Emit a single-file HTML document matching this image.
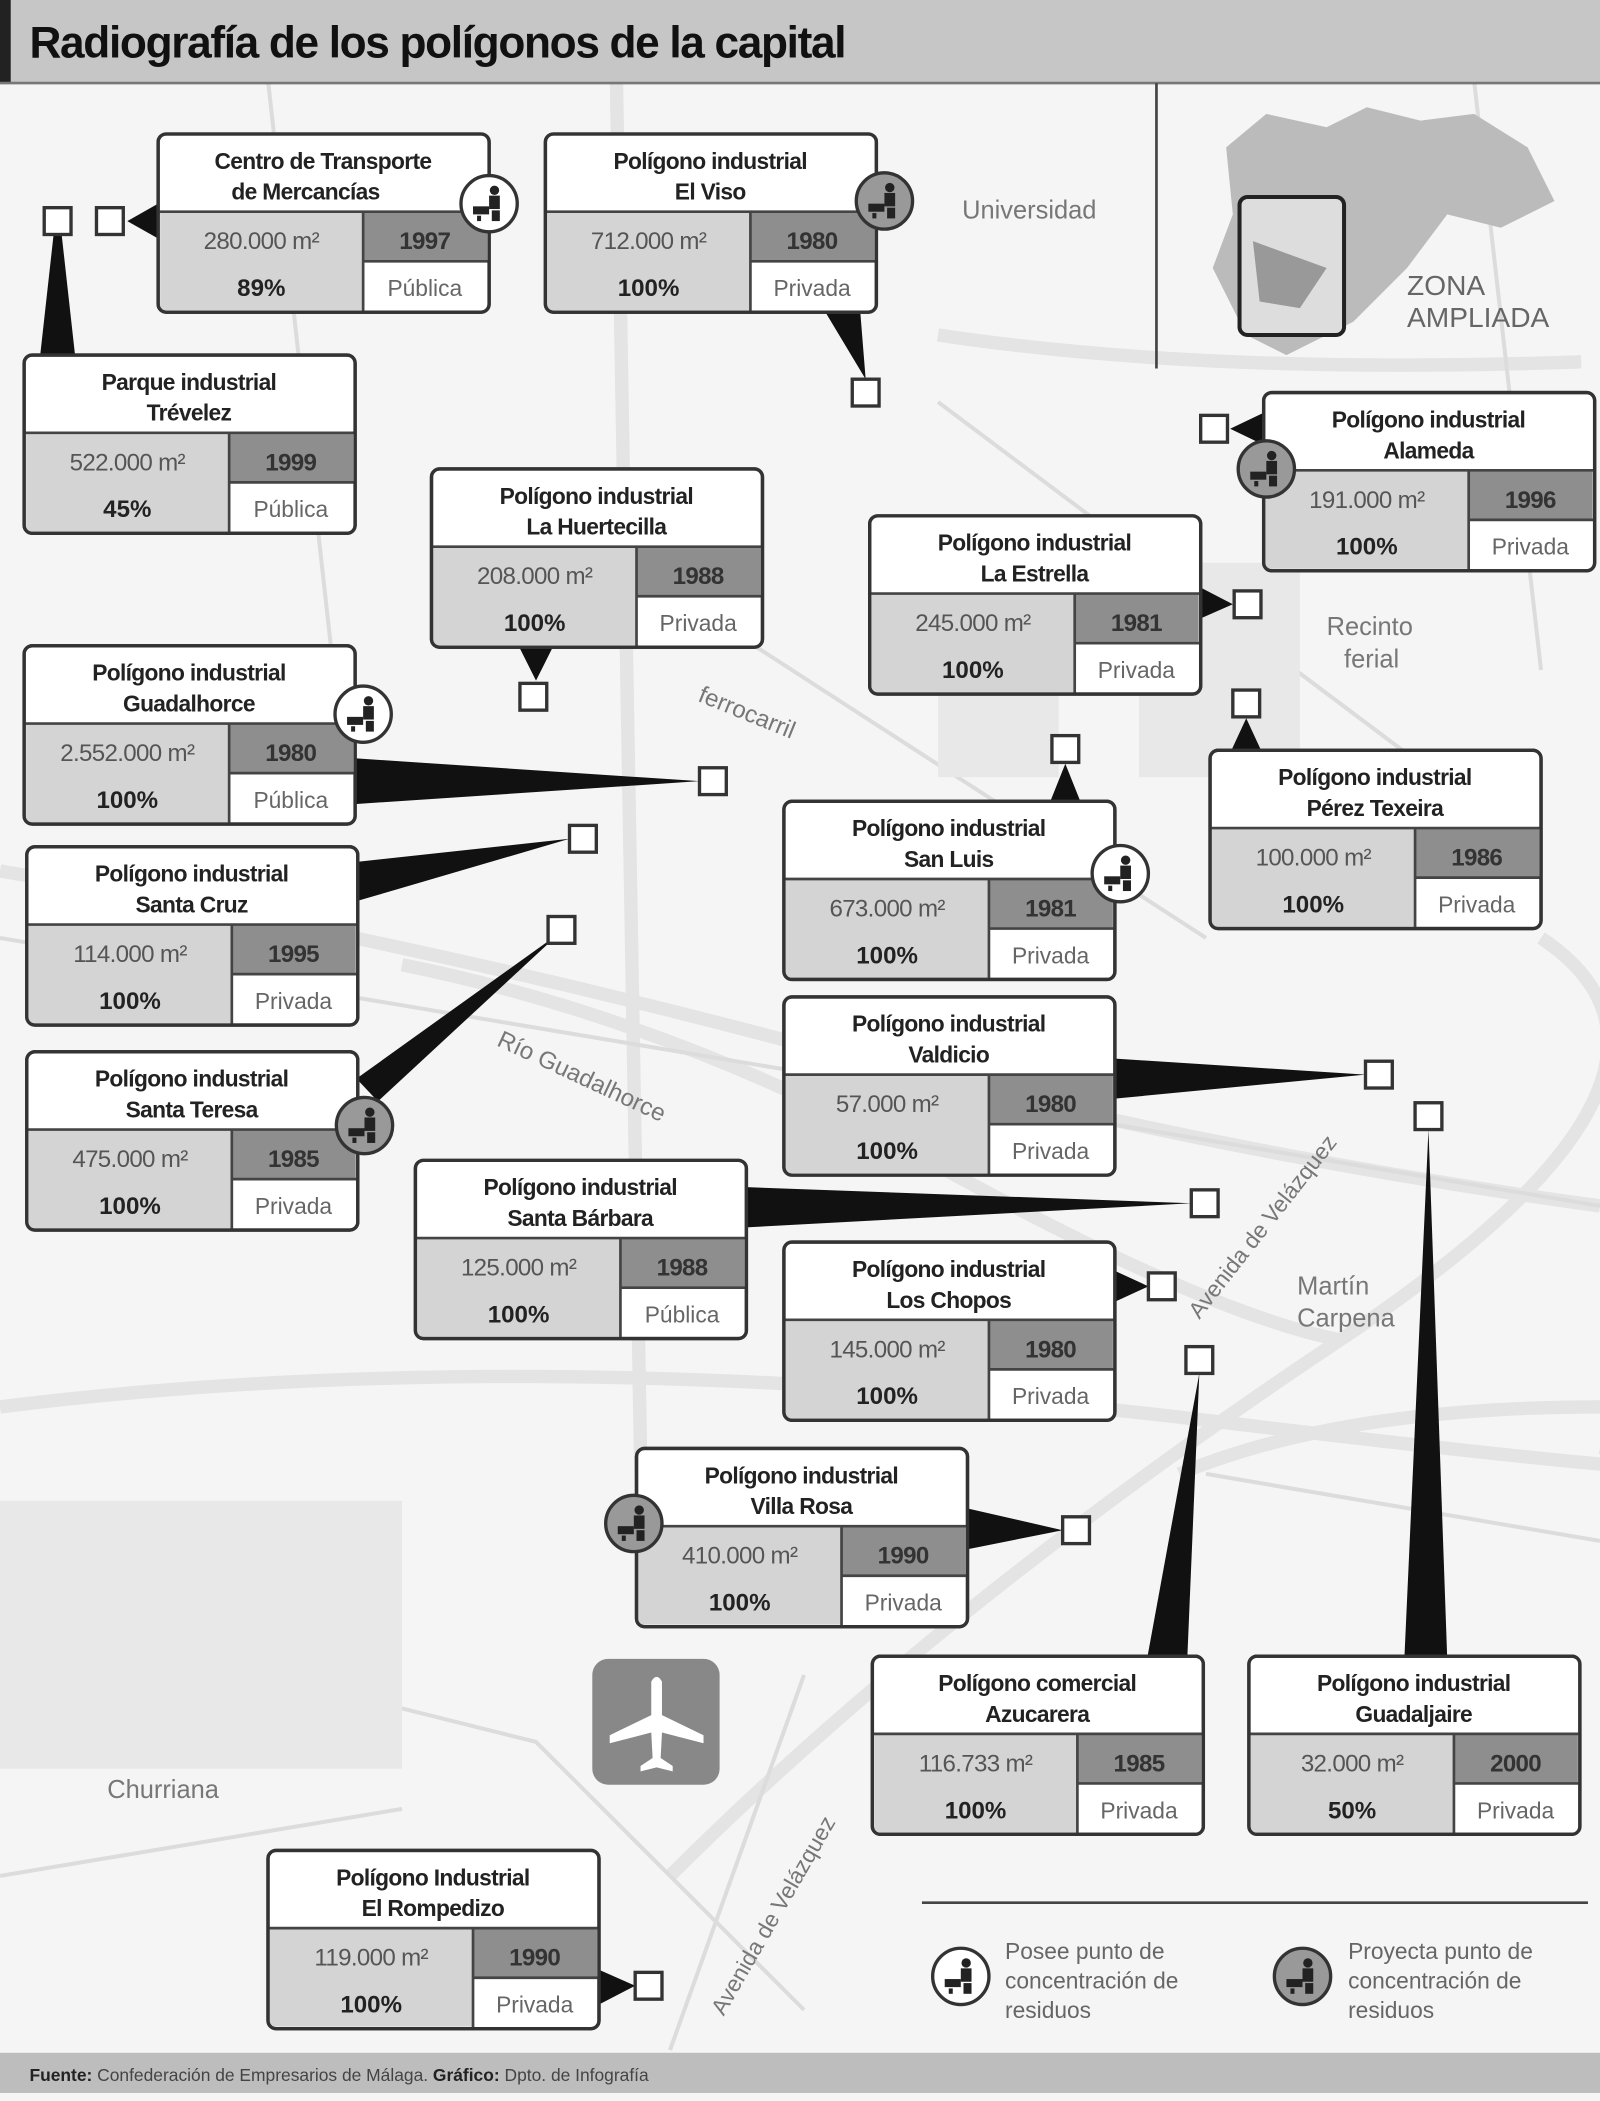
<!DOCTYPE html>
<html><head><meta charset="utf-8"><style>
html,body{margin:0;padding:0;background:#fff}
svg{display:block}
text{font-family:"Liberation Sans",sans-serif}
.t{font-size:17px;font-weight:bold;fill:#222;text-anchor:middle;letter-spacing:-0.5px}
.a{font-size:18px;fill:#555;text-anchor:middle;letter-spacing:-0.5px}
.y{font-size:18px;font-weight:bold;fill:#333;text-anchor:middle;letter-spacing:-0.5px}
.p{font-size:18px;font-weight:bold;fill:#222;text-anchor:middle}
.k{font-size:17px;fill:#666;text-anchor:middle}
.m{font-size:17px;fill:#777}
</style></head><body>
<svg width="1600" height="2101" viewBox="0 0 1194 1568" preserveAspectRatio="none" xmlns="http://www.w3.org/2000/svg">
<defs>
<g id="bx">
<rect x="0" y="0" width="247" height="133" rx="6" fill="#fff" stroke="#333" stroke-width="2.5"/>
<rect x="1.5" y="58" width="152" height="73.5" fill="#d4d4d4"/>
<rect x="153" y="58" width="92.5" height="37" fill="#8e8e8e"/>
<line x1="1" y1="58" x2="246" y2="58" stroke="#444" stroke-width="2"/>
<line x1="153" y1="58" x2="153" y2="132" stroke="#444" stroke-width="2"/>
<line x1="153" y1="95" x2="246" y2="95" stroke="#444" stroke-width="2"/>
<rect x="0" y="0" width="247" height="133" rx="6" fill="none" stroke="#333" stroke-width="2.5"/>
</g>
<g id="own"><circle r="21" fill="#fff" stroke="#333" stroke-width="2.5"/><circle cx="4" cy="-10" r="3.5" fill="#222"/><rect x="0" y="-6" width="8" height="10" fill="#222"/><rect x="-12" y="2" width="12" height="6" fill="#222"/><rect x="-9" y="9" width="3" height="4" fill="#222"/><rect x="2" y="5" width="6" height="8" fill="#222"/></g>
<g id="prj"><circle r="21" fill="#999" stroke="#333" stroke-width="2.5"/><circle cx="4" cy="-10" r="3.5" fill="#222"/><rect x="0" y="-6" width="8" height="10" fill="#222"/><rect x="-12" y="2" width="12" height="6" fill="#222"/><rect x="-9" y="9" width="3" height="4" fill="#222"/><rect x="2" y="5" width="6" height="8" fill="#222"/></g>
<rect id="mk" width="20" height="20" fill="#fff" stroke="#333" stroke-width="2.5"/>
</defs>
<rect width="1194" height="1568" fill="#f5f5f5"/>
<g fill="none" stroke="#e4e4e4" stroke-width="10">
<path d="M0 650 Q300 700 600 780 T1194 900"/>
<path d="M300 720 Q500 760 700 870 T1000 1000"/>
<path d="M460 60 L480 1200"/>
<path d="M700 250 Q900 280 1180 270"/>
<path d="M0 1050 Q400 1000 900 1060 T1194 1080"/>
<path d="M880 1100 Q1000 1050 1194 1050"/>
<path d="M500 1400 Q700 1200 1000 1000 T1150 700"/>
</g>
<g fill="none" stroke="#dcdcdc" stroke-width="3">
<path d="M0 700 L1194 900"/><path d="M200 60 L260 600"/><path d="M700 300 L1100 600"/>
<path d="M0 1200 L400 1300 L600 1500"/><path d="M900 1100 L1194 1150"/><path d="M560 480 L900 700"/>
<path d="M0 1400 L300 1350"/><path d="M600 1250 L500 1530"/><path d="M1100 60 L1150 500"/>
</g>
<g fill="#e8e8e8"><rect x="0" y="1120" width="300" height="200"/><rect x="850" y="420" width="120" height="160"/><rect x="700" y="500" width="90" height="80"/></g>
<rect x="0" y="0" width="1194" height="62" fill="#c6c6c6"/>
<rect x="0" y="0" width="8" height="62" fill="#222"/>
<line x1="0" y1="62" x2="1194" y2="62" stroke="#777" stroke-width="2"/>
<text x="22" y="43" style="font-size:33px;font-weight:bold;fill:#111;letter-spacing:-1px">Radiografía de los polígonos de la capital</text>
<line x1="863" y1="62" x2="863" y2="275" stroke="#444" stroke-width="2"/>
<path d="M915 110 L945 85 L990 95 L1020 80 L1060 90 L1100 85 L1140 110 L1160 150 L1120 170 L1080 160 L1050 200 L1010 240 L960 265 L930 250 L905 200 L920 160 Z" fill="#bbb"/>
<rect x="925" y="147" width="78" height="103" rx="6" fill="#ddd" stroke="#222" stroke-width="3"/>
<path d="M935 180 L990 200 L970 230 L940 225 Z" fill="#999"/>
<text x="1050" y="220" style="font-size:21px;fill:#666">ZONA</text>
<text x="1050" y="244" style="font-size:21px;fill:#666">AMPLIADA</text>
<text class="m" x="718" y="163" style="font-size:19px">Universidad</text>
<text class="m" x="990" y="474" style="font-size:19px">Recinto</text>
<text class="m" x="1003" y="498" style="font-size:19px">ferial</text>
<text class="m" x="520" y="523" transform="rotate(22 520 523)" style="font-size:18px">ferrocarril</text>
<text class="m" x="370" y="780" transform="rotate(25 370 780)" style="font-size:18px">Río Guadalhorce</text>
<text class="m" x="895" y="985" transform="rotate(-52 895 985)" style="font-size:17px">Avenida de Velázquez</text>
<text class="m" x="968" y="966" style="font-size:19px">Martín</text>
<text class="m" x="968" y="990" style="font-size:19px">Carpena</text>
<text class="m" x="80" y="1342" style="font-size:19px">Churriana</text>
<text class="m" x="540" y="1505" transform="rotate(-60 540 1505)" style="font-size:17px">Avenida de Velázquez</text>
<rect x="442" y="1238" width="95" height="94" rx="12" fill="#888"/>
<path d="M486 1255 Q490 1248 494 1255 L494 1280 L525 1295 L525 1301 L494 1293 L493 1312 L502 1318 L502 1322 L490 1319 L478 1322 L478 1318 L487 1312 L486 1293 L455 1301 L455 1295 L486 1280 Z" fill="#fff"/>
<g fill="#111">
<polygon points="118,152 118,178 95,165"/>
<polygon points="40,175 46,175 56,265 30,265"/>
<polygon points="616,233 642,233 646,283"/>
<polygon points="388,484 412,484 400,508"/>
<polygon points="943,308 943,332 918,320"/>
<polygon points="895,438 895,462 920,451"/>
<polygon points="266,566 266,600 522,583"/>
<polygon points="268,643 268,672 425,626"/>
<polygon points="918,562 942,562 930,536"/>
<polygon points="783,600 807,600 795,570"/>
<polygon points="266,805 282,822 418,696"/>
<polygon points="831,790 831,820 1019,802"/>
<polygon points="557,886 557,916 889,898"/>
<polygon points="831,948 831,972 857,960"/>
<polygon points="1048,1238 1080,1238 1066,843"/>
<polygon points="856,1238 886,1238 895,1025"/>
<polygon points="723,1126 723,1156 793,1142"/>
<polygon points="447,1470 447,1496 474,1482"/>
</g>
<g>
<use href="#mk" x="33" y="155"/><use href="#mk" x="72" y="155"/>
<use href="#mk" x="636" y="283"/><use href="#mk" x="388" y="510"/>
<use href="#mk" x="896" y="310"/><use href="#mk" x="921" y="441"/>
<use href="#mk" x="522" y="573"/><use href="#mk" x="425" y="616"/>
<use href="#mk" x="920" y="515"/><use href="#mk" x="785" y="549"/>
<use href="#mk" x="409" y="684"/><use href="#mk" x="1019" y="792"/>
<use href="#mk" x="889" y="888"/><use href="#mk" x="857" y="950"/>
<use href="#mk" x="1056" y="823"/><use href="#mk" x="885" y="1005"/>
<use href="#mk" x="793" y="1132"/><use href="#mk" x="474" y="1472"/>
</g>
<g transform="translate(118,100)"><use href="#bx"/><text class="t" x="123" y="26">Centro de Transporte</text><text class="t" x="110" y="49">de Mercancías</text><text class="a" x="77" y="86">280.000 m²</text><text class="y" x="199" y="86">1997</text><text class="p" x="77" y="121">89%</text><text class="k" x="199" y="121">Pública</text></g>
<g transform="translate(407,100)"><use href="#bx"/><text class="t" x="123" y="26">Polígono industrial</text><text class="t" x="123" y="49">El Viso</text><text class="a" x="77" y="86">712.000 m²</text><text class="y" x="199" y="86">1980</text><text class="p" x="77" y="121">100%</text><text class="k" x="199" y="121">Privada</text></g>
<g transform="translate(18,265)"><use href="#bx"/><text class="t" x="123" y="26">Parque industrial</text><text class="t" x="123" y="49">Trévelez</text><text class="a" x="77" y="86">522.000 m²</text><text class="y" x="199" y="86">1999</text><text class="p" x="77" y="121">45%</text><text class="k" x="199" y="121">Pública</text></g>
<g transform="translate(322,350)"><use href="#bx"/><text class="t" x="123" y="26">Polígono industrial</text><text class="t" x="123" y="49">La Huertecilla</text><text class="a" x="77" y="86">208.000 m²</text><text class="y" x="199" y="86">1988</text><text class="p" x="77" y="121">100%</text><text class="k" x="199" y="121">Privada</text></g>
<g transform="translate(943,293)"><use href="#bx"/><text class="t" x="123" y="26">Polígono industrial</text><text class="t" x="123" y="49">Alameda</text><text class="a" x="77" y="86">191.000 m²</text><text class="y" x="199" y="86">1996</text><text class="p" x="77" y="121">100%</text><text class="k" x="199" y="121">Privada</text></g>
<g transform="translate(649,385)"><use href="#bx"/><text class="t" x="123" y="26">Polígono industrial</text><text class="t" x="123" y="49">La Estrella</text><text class="a" x="77" y="86">245.000 m²</text><text class="y" x="199" y="86">1981</text><text class="p" x="77" y="121">100%</text><text class="k" x="199" y="121">Privada</text></g>
<g transform="translate(18,482)"><use href="#bx"/><text class="t" x="123" y="26">Polígono industrial</text><text class="t" x="123" y="49">Guadalhorce</text><text class="a" x="77" y="86">2.552.000 m²</text><text class="y" x="199" y="86">1980</text><text class="p" x="77" y="121">100%</text><text class="k" x="199" y="121">Pública</text></g>
<g transform="translate(20,632)"><use href="#bx"/><text class="t" x="123" y="26">Polígono industrial</text><text class="t" x="123" y="49">Santa Cruz</text><text class="a" x="77" y="86">114.000 m²</text><text class="y" x="199" y="86">1995</text><text class="p" x="77" y="121">100%</text><text class="k" x="199" y="121">Privada</text></g>
<g transform="translate(585,598)"><use href="#bx"/><text class="t" x="123" y="26">Polígono industrial</text><text class="t" x="123" y="49">San Luis</text><text class="a" x="77" y="86">673.000 m²</text><text class="y" x="199" y="86">1981</text><text class="p" x="77" y="121">100%</text><text class="k" x="199" y="121">Privada</text></g>
<g transform="translate(903,560)"><use href="#bx"/><text class="t" x="123" y="26">Polígono industrial</text><text class="t" x="123" y="49">Pérez Texeira</text><text class="a" x="77" y="86">100.000 m²</text><text class="y" x="199" y="86">1986</text><text class="p" x="77" y="121">100%</text><text class="k" x="199" y="121">Privada</text></g>
<g transform="translate(585,744)"><use href="#bx"/><text class="t" x="123" y="26">Polígono industrial</text><text class="t" x="123" y="49">Valdicio</text><text class="a" x="77" y="86">57.000 m²</text><text class="y" x="199" y="86">1980</text><text class="p" x="77" y="121">100%</text><text class="k" x="199" y="121">Privada</text></g>
<g transform="translate(20,785)"><use href="#bx"/><text class="t" x="123" y="26">Polígono industrial</text><text class="t" x="123" y="49">Santa Teresa</text><text class="a" x="77" y="86">475.000 m²</text><text class="y" x="199" y="86">1985</text><text class="p" x="77" y="121">100%</text><text class="k" x="199" y="121">Privada</text></g>
<g transform="translate(310,866)"><use href="#bx"/><text class="t" x="123" y="26">Polígono industrial</text><text class="t" x="123" y="49">Santa Bárbara</text><text class="a" x="77" y="86">125.000 m²</text><text class="y" x="199" y="86">1988</text><text class="p" x="77" y="121">100%</text><text class="k" x="199" y="121">Pública</text></g>
<g transform="translate(585,927)"><use href="#bx"/><text class="t" x="123" y="26">Polígono industrial</text><text class="t" x="123" y="49">Los Chopos</text><text class="a" x="77" y="86">145.000 m²</text><text class="y" x="199" y="86">1980</text><text class="p" x="77" y="121">100%</text><text class="k" x="199" y="121">Privada</text></g>
<g transform="translate(475,1081)"><use href="#bx"/><text class="t" x="123" y="26">Polígono industrial</text><text class="t" x="123" y="49">Villa Rosa</text><text class="a" x="77" y="86">410.000 m²</text><text class="y" x="199" y="86">1990</text><text class="p" x="77" y="121">100%</text><text class="k" x="199" y="121">Privada</text></g>
<g transform="translate(651,1236)"><use href="#bx"/><text class="t" x="123" y="26">Polígono comercial</text><text class="t" x="123" y="49">Azucarera</text><text class="a" x="77" y="86">116.733 m²</text><text class="y" x="199" y="86">1985</text><text class="p" x="77" y="121">100%</text><text class="k" x="199" y="121">Privada</text></g>
<g transform="translate(932,1236)"><use href="#bx"/><text class="t" x="123" y="26">Polígono industrial</text><text class="t" x="123" y="49">Guadaljaire</text><text class="a" x="77" y="86">32.000 m²</text><text class="y" x="199" y="86">2000</text><text class="p" x="77" y="121">50%</text><text class="k" x="199" y="121">Privada</text></g>
<g transform="translate(200,1381)"><use href="#bx"/><text class="t" x="123" y="26">Polígono Industrial</text><text class="t" x="123" y="49">El Rompedizo</text><text class="a" x="77" y="86">119.000 m²</text><text class="y" x="199" y="86">1990</text><text class="p" x="77" y="121">100%</text><text class="k" x="199" y="121">Privada</text></g>
<use href="#own" x="365" y="152"/>
<use href="#prj" x="660" y="150"/>
<use href="#prj" x="945" y="350"/>
<use href="#own" x="271" y="533"/>
<use href="#own" x="836" y="652"/>
<use href="#prj" x="272" y="840"/>
<use href="#prj" x="473" y="1137"/>
<line x1="688" y1="1420" x2="1185" y2="1420" stroke="#444" stroke-width="2"/>
<use href="#own" x="717" y="1475"/>
<use href="#prj" x="972" y="1475"/>
<text class="m" x="750" y="1462" style="font-size:17px;fill:#666">Posee punto de</text>
<text class="m" x="750" y="1484" style="font-size:17px;fill:#666">concentración de</text>
<text class="m" x="750" y="1506" style="font-size:17px;fill:#666">residuos</text>
<text class="m" x="1006" y="1462" style="font-size:17px;fill:#666">Proyecta punto de</text>
<text class="m" x="1006" y="1484" style="font-size:17px;fill:#666">concentración de</text>
<text class="m" x="1006" y="1506" style="font-size:17px;fill:#666">residuos</text>
<rect x="0" y="1532" width="1194" height="30" fill="#bdbdbd"/>
<text x="22" y="1553" style="font-size:13px;fill:#444"><tspan font-weight="bold" fill="#222">Fuente:</tspan> Confederación de Empresarios de Málaga. <tspan font-weight="bold" fill="#222">Gráfico:</tspan> Dpto. de Infografía</text>
</svg>
</body></html>
